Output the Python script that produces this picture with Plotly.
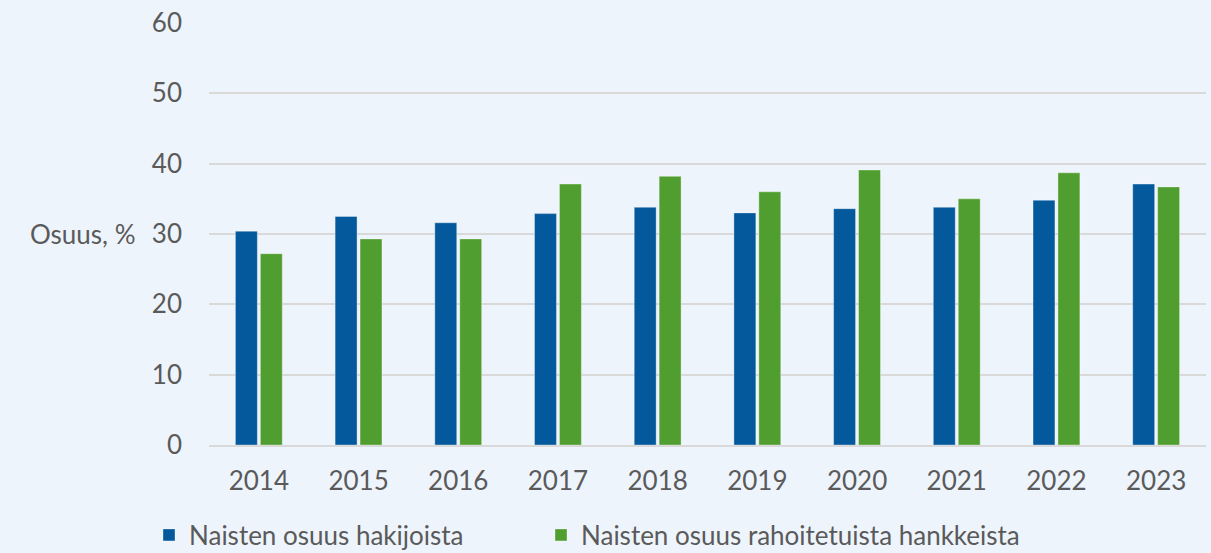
import plotly.graph_objects as go

years = ["2014", "2015", "2016", "2017", "2018", "2019", "2020", "2021", "2022", "2023"]
hakijat = [30.4, 32.5, 31.6, 32.9, 33.8, 33.0, 33.6, 33.8, 34.8, 37.1]
rahoitetut = [27.2, 29.3, 29.3, 37.1, 38.2, 36.0, 39.1, 35.0, 38.7, 36.7]
series_names = ["Naisten osuus hakijoista", "Naisten osuus rahoitetuista hankkeista"]
y_ticks = [0, 10, 20, 30, 40, 50, 60]

BLUE = "#03599C"
GREEN = "#509E2F"
BG = "#EEF4FC"
TXT = "#5A5A5A"
FONT = "Lato"
FS = 26

ML, MR, MT, MB = 209, 5, 23, 108
W, H = 1211, 553
PW, PH = W - ML - MR, H - MT - MB

fig = go.Figure()
fig.add_trace(go.Bar(x=years, y=hakijat, name=series_names[0], marker_color=BLUE,
                     marker_line=dict(color="rgba(255,255,255,0.35)", width=1),
                     legend="legend"))
fig.add_trace(go.Bar(x=years, y=rahoitetut, name=series_names[1], marker_color=GREEN,
                     marker_line=dict(color="rgba(255,255,255,0.35)", width=1),
                     legend="legend2"))

leg_common = dict(orientation="h", xanchor="left", yanchor="middle",
                  y=(H - MB - 535) / PH, bgcolor="rgba(0,0,0,0)",
                  font=dict(size=FS, color=TXT, family=FONT))

fig.update_layout(
    width=W, height=H,
    paper_bgcolor=BG, plot_bgcolor=BG,
    margin=dict(l=ML, r=MR, t=MT, b=MB, autoexpand=False),
    barmode="group", bargap=0.5, bargroupgap=0.12,
    font=dict(family=FONT, size=FS, color=TXT),
    showlegend=True,
    legend=dict(x=(149 - ML) / PW, **leg_common),
    legend2=dict(x=(541 - ML) / PW, **leg_common),
)
fig.update_yaxes(range=[0, 60], tickvals=y_ticks, showgrid=True, gridcolor="#D9D9D9",
                 gridwidth=2, zeroline=False, showline=False, ticks="",
                 ticklabelstandoff=26, tickfont=dict(size=FS, color=TXT))
fig.update_xaxes(showgrid=False, showline=True, linecolor="#D9D9D9", linewidth=2,
                 ticks="", ticklabelstandoff=12, tickfont=dict(size=FS, color=TXT),
                 tickangle=0)
fig.add_annotation(text="Osuus, %", xref="paper", yref="y", x=0, y=30,
                   xanchor="right", yanchor="middle", xshift=-71, showarrow=False,
                   font=dict(size=FS, color=TXT, family=FONT))

fig.write_html("out.html", config={"displayModeBar": False},
               post_script="document.body.style.margin='0';document.body.style.background='#EEF4FC';")
